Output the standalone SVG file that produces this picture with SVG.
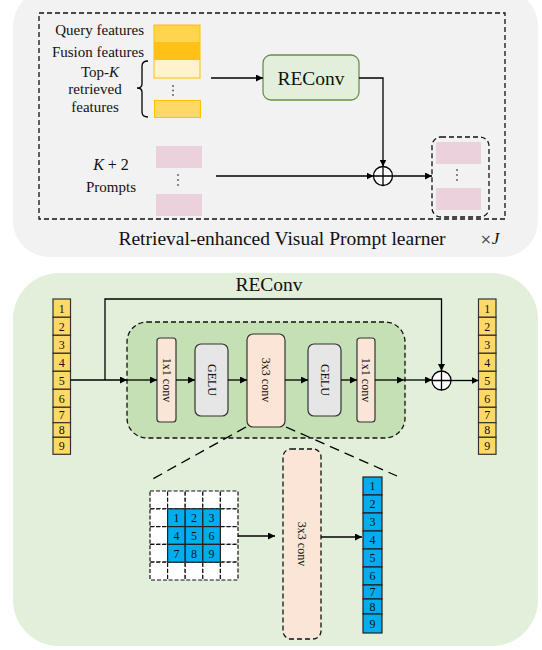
<svg xmlns="http://www.w3.org/2000/svg" width="542" height="650" viewBox="0 0 542 650">
  <defs>
    <marker id="arr" viewBox="0 0 10 10" refX="10" refY="5" markerWidth="7" markerHeight="7" markerUnits="userSpaceOnUse" orient="auto">
      <path d="M0,0 L10,5 L0,10 z" fill="#000"/>
    </marker>
    <style>
      text { font-family: "Liberation Serif", "Times New Roman", serif; fill: #111; }
      .lbl { font-size: 15px; }
      .big { font-size: 19.5px; }
      .num { font-size: 12px; text-anchor: middle; }
      .rot { font-size: 12px; text-anchor: middle; }
      .ln { stroke: #000; stroke-width: 1.3; fill: none; }
      .arr { stroke: #000; stroke-width: 1.3; fill: none; marker-end: url(#arr); }
      .dash { stroke: #111; stroke-width: 1.3; stroke-dasharray: 5 3; fill: none; }
      .ycell { fill: #ffd966; stroke: #333; stroke-width: 1.2; }
      .bcell { fill: #00aeef; stroke: #222; stroke-width: 1.2; }
      .gcell { fill: #fff; stroke: #111; stroke-width: 1.2; stroke-dasharray: 4 2; }
      .pink { fill: #ead1dc; }
      .peach { fill: #fbe5d6; stroke: #333; stroke-width: 1.2; }
      .gelu { fill: #e7e6e6; stroke: #333; stroke-width: 1.2; }
      .zoomline { stroke: #000; stroke-width: 1.3; stroke-dasharray: 10 6; }
    </style>
  </defs>

  <!-- upper panel: retrieval-enhanced visual prompt learner -->
  <g id="learner-panel">
    <rect x="13" y="-10" width="525" height="267" rx="36" fill="#f2f2f2"/>
    <rect x="39" y="13" width="466" height="206" class="dash"/>
    <text x="282" y="245" class="big" text-anchor="middle">Retrieval-enhanced Visual Prompt learner</text>
    <text x="480" y="244" font-size="17"><tspan font-family="DejaVu Sans, sans-serif" font-size="14" fill="#444">×</tspan><tspan font-style="italic">J</tspan></text>
  </g>

  <g id="feature-stack">
    <text x="144" y="35" class="lbl" text-anchor="end">Query features</text>
    <text x="144" y="57" class="lbl" text-anchor="end">Fusion features</text>
    <text x="100" y="77" class="lbl" text-anchor="middle">Top-<tspan font-style="italic">K</tspan></text>
    <text x="95" y="94" class="lbl" text-anchor="middle">retrieved</text>
    <text x="95" y="112" class="lbl" text-anchor="middle">features</text>
    <path d="M148,61 Q142,61 142,66 L142,84 Q142,88 137,88 Q142,88 142,92 L142,112 Q142,117 148,117" class="ln" stroke-width="1.5"/>
    <rect x="154" y="25" width="46" height="17" fill="#ffd54f"/>
    <rect x="154" y="42" width="46" height="18" fill="#ffc116"/>
    <rect x="154" y="60" width="46" height="18" fill="#fff2cc"/>
    <rect x="154" y="25" width="46" height="53" fill="none" stroke="#ffc000" stroke-width="1"/>
    <g fill="#555">
      <circle cx="173" cy="86" r="0.9"/><circle cx="173" cy="90.5" r="0.9"/><circle cx="173" cy="95" r="0.9"/>
    </g>
    <rect x="154.5" y="100.5" width="46" height="17" fill="#ffd966" stroke="#ffc000" stroke-width="1"/>
  </g>

  <g id="prompts">
    <text x="111" y="170" font-size="16" text-anchor="middle"><tspan font-style="italic">K</tspan> + 2</text>
    <text x="111" y="192" class="lbl" text-anchor="middle">Prompts</text>
    <rect x="156" y="146" width="46" height="22" class="pink"/>
    <g fill="#555">
      <circle cx="178" cy="175" r="0.9"/><circle cx="178" cy="180" r="0.9"/><circle cx="178" cy="185" r="0.9"/>
    </g>
    <rect x="156" y="194" width="46" height="22" class="pink"/>
  </g>

  <g id="reconv-block">
    <rect x="263" y="55" width="96" height="45" rx="8" fill="#e2efda" stroke="#6a8f4a" stroke-width="1.3"/>
    <text x="311" y="85" class="big" text-anchor="middle">REConv</text>
  </g>

  <g id="sum-top">
    <circle cx="383" cy="176" r="9.5" fill="#fff" stroke="#000" stroke-width="1.3"/>
    <path d="M373.5,176 H392.5 M383,166.5 V185.5" class="ln"/>
  </g>

  <g id="output-prompts">
    <rect x="432" y="137" width="57" height="80" rx="9" class="dash"/>
    <rect x="436" y="142" width="45" height="22" class="pink"/>
    <g fill="#555">
      <circle cx="457" cy="170" r="0.9"/><circle cx="457" cy="175" r="0.9"/><circle cx="457" cy="180" r="0.9"/>
    </g>
    <rect x="436" y="188" width="45" height="22" class="pink"/>
  </g>

  <!-- lower panel: REConv detail -->
  <g id="reconv-panel">
    <rect x="13" y="273" width="525" height="373" rx="46" fill="#e2efda"/>
    <text x="269" y="291" class="big" text-anchor="middle">REConv</text>
    <rect x="127" y="322" width="278" height="116" rx="20" fill="#c5e0b4" stroke="#111" stroke-width="1.3" stroke-dasharray="5 3"/>
  </g>

  <g id="input-tokens">
    <rect x="53" y="299" width="17.5" height="18.3" class="ycell"/>
    <rect x="53" y="317.3" width="17.5" height="18" class="ycell"/>
    <rect x="53" y="335.3" width="17.5" height="18" class="ycell"/>
    <rect x="53" y="353.3" width="17.5" height="18" class="ycell"/>
    <rect x="53" y="371.3" width="17.5" height="18" class="ycell"/>
    <rect x="53" y="389.3" width="17.5" height="18" class="ycell"/>
    <rect x="53" y="407.3" width="17.5" height="15.4" class="ycell"/>
    <rect x="53" y="422.7" width="17.5" height="14.6" class="ycell"/>
    <rect x="53" y="437.3" width="17.5" height="17" class="ycell"/>
    <text x="61.7" y="312.5" class="num">1</text>
    <text x="61.7" y="330.5" class="num">2</text>
    <text x="61.7" y="348.5" class="num">3</text>
    <text x="61.7" y="366.5" class="num">4</text>
    <text x="61.7" y="384.5" class="num">5</text>
    <text x="61.7" y="402.5" class="num">6</text>
    <text x="61.7" y="419" class="num">7</text>
    <text x="61.7" y="434" class="num">8</text>
    <text x="61.7" y="450" class="num">9</text>
  </g>

  <g id="output-tokens">
    <rect x="478.5" y="299" width="17.5" height="18.3" class="ycell"/>
    <rect x="478.5" y="317.3" width="17.5" height="18" class="ycell"/>
    <rect x="478.5" y="335.3" width="17.5" height="18" class="ycell"/>
    <rect x="478.5" y="353.3" width="17.5" height="18" class="ycell"/>
    <rect x="478.5" y="371.3" width="17.5" height="18" class="ycell"/>
    <rect x="478.5" y="389.3" width="17.5" height="18" class="ycell"/>
    <rect x="478.5" y="407.3" width="17.5" height="15.4" class="ycell"/>
    <rect x="478.5" y="422.7" width="17.5" height="14.6" class="ycell"/>
    <rect x="478.5" y="437.3" width="17.5" height="17" class="ycell"/>
    <text x="487.2" y="312.5" class="num">1</text>
    <text x="487.2" y="330.5" class="num">2</text>
    <text x="487.2" y="348.5" class="num">3</text>
    <text x="487.2" y="366.5" class="num">4</text>
    <text x="487.2" y="384.5" class="num">5</text>
    <text x="487.2" y="402.5" class="num">6</text>
    <text x="487.2" y="419" class="num">7</text>
    <text x="487.2" y="434" class="num">8</text>
    <text x="487.2" y="450" class="num">9</text>
  </g>

  <g id="conv1x1-in">
    <rect x="157" y="338" width="19" height="84" rx="3" class="peach"/>
    <text transform="translate(166.5,380) rotate(90)" y="4" class="rot">1x1 conv</text>
  </g>
  <g id="gelu-1">
    <rect x="195" y="344" width="33" height="72" rx="6" class="gelu"/>
    <text transform="translate(211.5,380) rotate(90)" y="4" class="rot">GELU</text>
  </g>
  <g id="conv3x3">
    <rect x="247" y="334" width="38" height="93" rx="6" class="peach"/>
    <text transform="translate(266,380) rotate(90)" y="4" class="rot">3x3 conv</text>
  </g>
  <g id="gelu-2">
    <rect x="308" y="344" width="33" height="72" rx="6" class="gelu"/>
    <text transform="translate(324.5,380) rotate(90)" y="4" class="rot">GELU</text>
  </g>
  <g id="conv1x1-out">
    <rect x="357" y="338" width="18" height="84" rx="3" class="peach"/>
    <text transform="translate(366,380) rotate(90)" y="4" class="rot">1x1 conv</text>
  </g>

  <g id="sum-bottom">
    <circle cx="441.5" cy="380.5" r="9.5" fill="#fff" stroke="#000" stroke-width="1.3"/>
    <path d="M432,380.5 H451 M441.5,371 V390" class="ln"/>
  </g>

  <!-- 3x3 convolution illustration -->
  <g id="patch-grid">
    <g>
      <rect x="150" y="491" width="17.6" height="17.8" class="gcell"/>
      <rect x="167.6" y="491" width="17.6" height="17.8" class="gcell"/>
      <rect x="185.2" y="491" width="17.6" height="17.8" class="gcell"/>
      <rect x="202.8" y="491" width="17.6" height="17.8" class="gcell"/>
      <rect x="220.4" y="491" width="17.6" height="17.8" class="gcell"/>
      <rect x="150" y="508.8" width="17.6" height="17.8" class="gcell"/>
      <rect x="220.4" y="508.8" width="17.6" height="17.8" class="gcell"/>
      <rect x="150" y="526.6" width="17.6" height="17.8" class="gcell"/>
      <rect x="220.4" y="526.6" width="17.6" height="17.8" class="gcell"/>
      <rect x="150" y="544.4" width="17.6" height="17.8" class="gcell"/>
      <rect x="220.4" y="544.4" width="17.6" height="17.8" class="gcell"/>
      <rect x="150" y="562.2" width="17.6" height="17.8" class="gcell"/>
      <rect x="167.6" y="562.2" width="17.6" height="17.8" class="gcell"/>
      <rect x="185.2" y="562.2" width="17.6" height="17.8" class="gcell"/>
      <rect x="202.8" y="562.2" width="17.6" height="17.8" class="gcell"/>
      <rect x="220.4" y="562.2" width="17.6" height="17.8" class="gcell"/>
    </g>
    <g>
      <rect x="167.6" y="508.8" width="17.6" height="17.8" class="bcell"/>
      <rect x="185.2" y="508.8" width="17.6" height="17.8" class="bcell"/>
      <rect x="202.8" y="508.8" width="17.6" height="17.8" class="bcell"/>
      <rect x="167.6" y="526.6" width="17.6" height="17.8" class="bcell"/>
      <rect x="185.2" y="526.6" width="17.6" height="17.8" class="bcell"/>
      <rect x="202.8" y="526.6" width="17.6" height="17.8" class="bcell"/>
      <rect x="167.6" y="544.4" width="17.6" height="17.8" class="bcell"/>
      <rect x="185.2" y="544.4" width="17.6" height="17.8" class="bcell"/>
      <rect x="202.8" y="544.4" width="17.6" height="17.8" class="bcell"/>
      <text x="176.4" y="522" class="num">1</text>
      <text x="194" y="522" class="num">2</text>
      <text x="211.6" y="522" class="num">3</text>
      <text x="176.4" y="540" class="num">4</text>
      <text x="194" y="540" class="num">5</text>
      <text x="211.6" y="540" class="num">6</text>
      <text x="176.4" y="558" class="num">7</text>
      <text x="194" y="558" class="num">8</text>
      <text x="211.6" y="558" class="num">9</text>
    </g>
  </g>

  <g id="conv3x3-detail">
    <rect x="283" y="449" width="38" height="190" rx="8" fill="#fbe5d6" stroke="#111" stroke-width="1.3" stroke-dasharray="5 3"/>
    <text transform="translate(302,544) rotate(90)" y="4" class="rot">3x3 conv</text>
  </g>

  <g id="result-tokens">
    <rect x="363" y="477" width="19" height="18" class="bcell"/>
    <rect x="363" y="495" width="19" height="18" class="bcell"/>
    <rect x="363" y="513" width="19" height="18" class="bcell"/>
    <rect x="363" y="531" width="19" height="18" class="bcell"/>
    <rect x="363" y="549" width="19" height="18" class="bcell"/>
    <rect x="363" y="567" width="19" height="18" class="bcell"/>
    <rect x="363" y="585" width="19" height="14" class="bcell"/>
    <rect x="363" y="599" width="19" height="15" class="bcell"/>
    <rect x="363" y="614" width="19" height="19" class="bcell"/>
    <text x="372.5" y="490" class="num">1</text>
    <text x="372.5" y="508" class="num">2</text>
    <text x="372.5" y="526" class="num">3</text>
    <text x="372.5" y="544" class="num">4</text>
    <text x="372.5" y="562" class="num">5</text>
    <text x="372.5" y="580" class="num">6</text>
    <text x="372.5" y="596" class="num">7</text>
    <text x="372.5" y="611" class="num">8</text>
    <text x="372.5" y="628" class="num">9</text>
  </g>

  <!-- connectors -->
  <g id="connectors">
    <line x1="211" y1="78" x2="263" y2="78" class="arr"/>
    <path d="M359,78 H383 V166.5" class="arr"/>
    <line x1="216" y1="176" x2="373.5" y2="176" class="arr"/>
    <line x1="392.5" y1="176" x2="432" y2="176" class="arr"/>

    <line x1="70.5" y1="380" x2="127" y2="380" class="arr"/>
    <line x1="127" y1="380" x2="157" y2="380" class="arr"/>
    <path d="M105,380 V299 H441.5 V371" class="arr"/>
    <line x1="176" y1="380" x2="195" y2="380" class="arr"/>
    <line x1="228" y1="380" x2="247" y2="380" class="arr"/>
    <line x1="285" y1="380" x2="308" y2="380" class="arr"/>
    <line x1="341" y1="380" x2="357" y2="380" class="arr"/>
    <line x1="375" y1="380" x2="404" y2="380" class="arr"/>
    <line x1="404" y1="380" x2="432" y2="380" class="arr"/>
    <line x1="451" y1="380.5" x2="478.5" y2="380.5" class="arr"/>

    <line x1="246" y1="427" x2="149" y2="481" class="zoomline"/>
    <line x1="286" y1="427" x2="397" y2="476" class="zoomline"/>
    <line x1="238" y1="536" x2="275" y2="536" class="arr"/>
    <line x1="321" y1="537" x2="362" y2="537" class="arr"/>
  </g>
</svg>
